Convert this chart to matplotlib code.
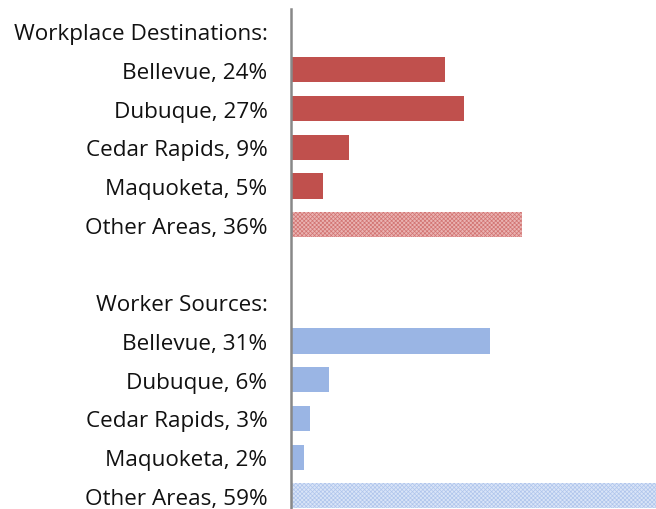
import matplotlib
matplotlib.use("Agg")
import matplotlib.pyplot as plt

labels = ["Workplace Destinations:", "Bellevue, 24%", "Dubuque, 27%", "Cedar Rapids, 9%",
          "Maquoketa, 5%", "Other Areas, 36%", "",
          "Worker Sources:", "Bellevue, 31%", "Dubuque, 6%", "Cedar Rapids, 3%",
          "Maquoketa, 2%", "Other Areas, 59%"]
dest_values = [24, 27, 9, 5, 36]
source_values = [31, 6, 3, 2, 59]

red = "#C0504D"
blue = "#9AB5E4"

plt.rcParams['font.family'] = ['Open Sans', 'DejaVu Sans']
plt.rcParams['hatch.linewidth'] = 0.5

fig = plt.figure(figsize=(6.56, 5.10), dpi=100)
ax = fig.add_axes([291/656, 0, 1 - 291/656, 500/510])

h = 0.65
for i, v in enumerate(dest_values):
    pos = 1 + i
    if i == len(dest_values) - 1:
        ax.barh(pos, v, height=h, color="#EAB3B2", edgecolor="#D27472", hatch="xxxxxxxx", linewidth=0)
    else:
        ax.barh(pos, v, height=h, color=red, linewidth=0)
for i, v in enumerate(source_values):
    pos = 8 + i
    if i == len(source_values) - 1:
        ax.barh(pos, v, height=h, color="#D9E4F7", edgecolor="#AFC5EC", hatch="xxxxxxxx", linewidth=0)
    else:
        ax.barh(pos, v, height=h, color=blue, linewidth=0)

ax.set_xlim(0, 57)
ax.set_ylim(12.34, -0.57)
ax.set_yticks(range(len(labels)))
ax.set_yticklabels(labels, fontsize=16.2, color="#111111")
ax.tick_params(axis='y', length=0, pad=17)
ax.set_xticks([])
for s in ['top', 'right', 'bottom']:
    ax.spines[s].set_visible(False)
ax.spines['left'].set_color('#888888')
ax.spines['left'].set_linewidth(1.8)

fig.savefig("out.png", dpi=100)
